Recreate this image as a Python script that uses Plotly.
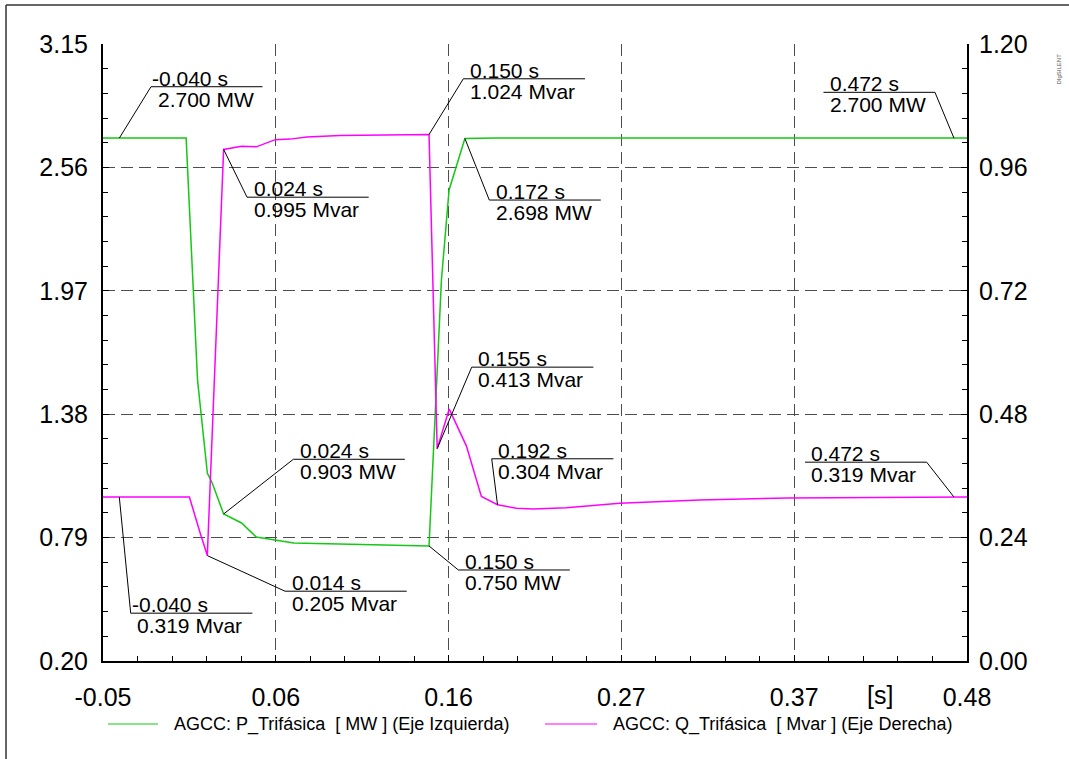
import numpy as np
import plotly.graph_objects as go

# ---- simulation results (time in s) ----
t_p = [-0.050, -0.040, 0.001, 0.008, 0.014, 0.017, 0.024, 0.035, 0.044, 0.067,
       0.110, 0.150, 0.1576, 0.1623, 0.172, 0.191, 0.472, 0.480]
p_mw = [2.700, 2.700, 2.700, 1.543, 1.099, 1.051, 0.903, 0.860, 0.793, 0.764,
        0.755, 0.750, 2.022, 2.452, 2.698, 2.700, 2.700, 2.700]

t_q = [-0.050, -0.040, 0.003, 0.0095, 0.014, 0.024, 0.035, 0.044, 0.0557, 0.0648,
       0.075, 0.0953, 0.1156, 0.150, 0.155, 0.1624, 0.1729, 0.1821, 0.192, 0.2036,
       0.2138, 0.2342, 0.267, 0.316, 0.370, 0.420, 0.472, 0.480]
q_mvar = [0.319, 0.319, 0.319, 0.250, 0.205, 0.995, 1.001, 1.000, 1.014, 1.015,
          1.019, 1.022, 1.023, 1.024, 0.413, 0.490, 0.4185, 0.320, 0.304, 0.297,
          0.2955, 0.298, 0.307, 0.313, 0.317, 0.318, 0.319, 0.319]

x_tick_labels = ["-0.05", "0.06", "0.16", "0.27", "0.37", "0.48"]
y_left_ticks = [0.20, 0.79, 1.38, 1.97, 2.56, 3.15]
y_right_ticks = [0.00, 0.24, 0.48, 0.72, 0.96, 1.20]

# times carrying a value label on each curve
marked_p = [-0.040, 0.024, 0.150, 0.172, 0.472]
marked_q = [-0.040, 0.014, 0.024, 0.150, 0.155, 0.192, 0.472]

# label placement: knee offset from the point (px, screen-down positive),
# underline length and direction
label_geom = {
    ("P", -0.040): (31.7, -51.4, 111.5, 1),
    ("P", 0.024): (69.7, -54.7, 111.5, 1),
    ("P", 0.150): (29.3, 24.0, 111.5, 1),
    ("P", 0.172): (24.4, 61.5, 111.5, 1),
    ("P", 0.472): (-19.0, -45.8, 111.5, -1),
    ("Q", -0.040): (11.4, 116.2, 121.7, 1),
    ("Q", 0.014): (77.7, 35.6, 121.7, 1),
    ("Q", 0.024): (23.4, 47.8, 121.7, 1),
    ("Q", 0.150): (34.3, -55.7, 121.7, 1),
    ("Q", 0.155): (34.5, -81.5, 121.7, 1),
    ("Q", 0.192): (-5.8, -45.9, 121.7, 1),
    ("Q", 0.472): (-27.3, -34.8, 121.7, -1),
}

W, H = 1069, 759
L, R, T, B = 103, 102, 44, 98
PW, PH = W - L - R, H - T - B

FONT = "Liberation Sans, Arial, sans-serif"
GREEN = "#14C814"
MAGENTA = "#FF00FF"
GRID = "#4d4d4d"


def px_x(px):
    return (px - L) / PW


def px_y(py):
    return (H - B - py) / PH


x0, x1 = -0.05, 0.48
x_tick_vals = list(np.linspace(x0, x1, len(x_tick_labels)))

fig = go.Figure()
fig.add_trace(go.Scatter(x=t_p, y=p_mw, mode="lines", yaxis="y",
                         line=dict(color=GREEN, width=1.5), showlegend=False,
                         name="AGCC: P_Trifásica  [ MW ] (Eje Izquierda)"))
fig.add_trace(go.Scatter(x=t_q, y=q_mvar, mode="lines", yaxis="y2",
                         line=dict(color=MAGENTA, width=1.5), showlegend=False,
                         name="AGCC: Q_Trifásica  [ Mvar ] (Eje Derecha)"))

tickfont = dict(family=FONT, size=25, color="black")
fig.update_layout(
    width=W, height=H, autosize=False,
    margin=dict(l=L, r=R, t=T, b=B, pad=0),
    paper_bgcolor="white", plot_bgcolor="white",
    xaxis=dict(range=[x0, x1], tickmode="array", tickvals=x_tick_vals,
               ticktext=x_tick_labels, ticks="inside", ticklen=6, tickwidth=1,
               tickcolor="black",
               minor=dict(tick0=x0, dtick=(x1 - x0) / 25, ticks="inside",
                          ticklen=5, tickcolor="black", showgrid=False),
               showgrid=True, gridcolor=GRID, griddash="12px,6px", gridwidth=1,
               showline=True, linecolor="black", linewidth=2, zeroline=False,
               tickfont=tickfont, ticklabelstandoff=13),
    yaxis=dict(range=[y_left_ticks[0], y_left_ticks[-1]], tickmode="array",
               tickvals=y_left_ticks, ticktext=[f"{v:.2f}" for v in y_left_ticks],
               ticks="inside", ticklen=6, tickcolor="black",
               minor=dict(tick0=y_left_ticks[0],
                          dtick=(y_left_ticks[1] - y_left_ticks[0]) / 5,
                          ticks="inside", ticklen=5, tickcolor="black",
                          showgrid=False),
               showgrid=True, gridcolor=GRID, griddash="12px,6px", gridwidth=1,
               showline=True, linecolor="black", linewidth=2, zeroline=False,
               tickfont=tickfont, ticklabelstandoff=8),
    yaxis2=dict(range=[y_right_ticks[0], y_right_ticks[-1]], overlaying="y",
                side="right", tickmode="array", tickvals=y_right_ticks,
                ticktext=[f"{v:.2f}" for v in y_right_ticks],
                ticks="inside", ticklen=6, tickcolor="black",
                minor=dict(tick0=0, dtick=(y_right_ticks[1] - y_right_ticks[0]) / 5,
                           ticks="inside", ticklen=5, tickcolor="black",
                           showgrid=False),
                showgrid=False, showline=True, linecolor="black", linewidth=2,
                zeroline=False, tickfont=tickfont, ticklabelstandoff=5),
)

shapes = []
annotations = []

# value labels with leader lines
lab_font = dict(family=FONT, size=21, color="black")
for series, times, ts, vs, yref, unit in (
        ("P", marked_p, t_p, p_mw, "y", "MW"),
        ("Q", marked_q, t_q, q_mvar, "y2", "Mvar")):
    for tm in times:
        v = vs[ts.index(tm)]
        dx, dy, ln, d = label_geom[(series, tm)]
        up = -dy
        end = dx + d * ln
        left = min(dx, end)
        shapes.append(dict(
            type="path", xref="x", yref=yref, xsizemode="pixel", ysizemode="pixel",
            xanchor=tm, yanchor=v,
            path=f"M0,0 L{dx},{up} L{end},{up}",
            line=dict(color="black", width=1), layer="above"))
        t_txt = f"{tm:.3f} s"
        v_txt = f"{v:.3f} {unit}"
        for txt, ysh in ((t_txt, up + 8.5), (v_txt, up - 12.5)):
            pad = 1.0 if txt.startswith("-") else 6.5
            annotations.append(dict(
                x=tm, y=v, xref="x", yref=yref, text=txt, showarrow=False,
                xanchor="left", yanchor="middle", xshift=left + pad - 2,
                yshift=ysh, font=lab_font))

# axis unit
annotations.append(dict(x=px_x(880), y=px_y(695), xref="paper", yref="paper",
                        text="[s]", showarrow=False, xanchor="center",
                        yanchor="middle", font=tickfont))

# legend rows
leg_font = dict(family=FONT, size=18, color="black")
for (lx0, lx1, tx), col, name in (((108, 158, 172), GREEN, fig.data[0].name),
                                  ((545, 597, 611), MAGENTA, fig.data[1].name)):
    shapes.append(dict(type="line", xref="paper", yref="paper",
                       x0=px_x(lx0), x1=px_x(lx1), y0=px_y(724), y1=px_y(724),
                       line=dict(color=col, width=1.2)))
    annotations.append(dict(x=px_x(tx), y=px_y(724), xref="paper", yref="paper",
                            text=name, showarrow=False, xanchor="left",
                            yanchor="middle", font=leg_font))

# outer frame (top and left edges)
shapes.append(dict(type="line", xref="paper", yref="paper",
                   x0=px_x(6), x1=px_x(W), y0=px_y(5), y1=px_y(5),
                   line=dict(color="#333333", width=1.5)))
shapes.append(dict(type="line", xref="paper", yref="paper",
                   x0=px_x(6), x1=px_x(6), y0=px_y(5), y1=px_y(H),
                   line=dict(color="#333333", width=1.5)))

# program stamp
annotations.append(dict(x=px_x(1063), y=px_y(52), xref="paper", yref="paper",
                        text="DIgSILENT", showarrow=False, textangle=-90,
                        font=dict(family=FONT, size=6, color="#555555")))

fig.update_layout(shapes=shapes, annotations=annotations)
fig.write_html("out.html")
